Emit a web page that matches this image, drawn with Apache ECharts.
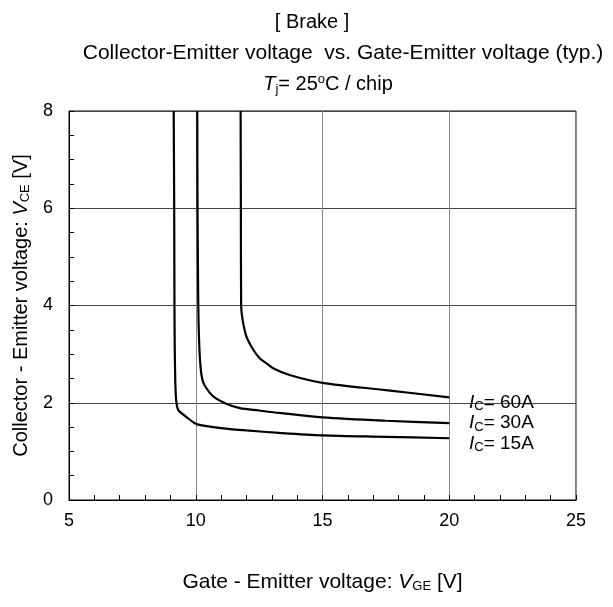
<!DOCTYPE html>
<html>
<head>
<meta charset="utf-8">
<script src="https://cdn.jsdelivr.net/npm/echarts@6/dist/echarts.min.js"></script>
<style>
  html, body { margin: 0; padding: 0; background: #fff; }
  #chart { width: 613px; height: 607px; }
</style>
</head>
<body>
<div id="chart"></div>
<script>
// VCE vs VGE curves, one per collector current: [VGE, VCE] pairs
const curve15A = [[9.13,8],[9.15,6],[9.16,4],[9.17,3.2],[9.19,2.5],[9.22,2.1],[9.26,1.93],[9.32,1.84],[9.6,1.72],[9.96,1.58],[10.2,1.54],[11,1.48],[12,1.43],[13.3,1.38],[15,1.33],[17.5,1.30],[20,1.27]];
const curve30A = [[10.06,8],[10.07,6],[10.1,4],[10.13,3.3],[10.18,2.8],[10.25,2.5],[10.36,2.35],[10.69,2.13],[11.2,1.98],[11.74,1.89],[12.5,1.84],[13.3,1.79],[15,1.70],[17.5,1.63],[20,1.58]];
const curve60A = [[11.77,8],[11.78,6],[11.79,4],[11.85,3.7],[12.0,3.36],[12.27,3.09],[12.53,2.91],[12.79,2.81],[13.05,2.71],[13.7,2.57],[15,2.41],[17.5,2.26],[20,2.11]];
const seriesNames = ['60A', '30A', '15A'];

const FONT = 'Liberation Sans, Arial, sans-serif';
const chart = echarts.init(document.getElementById('chart'));

function txt(size, extra) {
  return Object.assign({ fontFamily: FONT, fontSize: size, fontWeight: 'normal', color: '#000' }, extra || {});
}

const labelRich = {
  i: txt(19, { fontStyle: 'italic' }),
  s: txt(13, { padding: [8, 0, 0, 0] }),
  t: txt(19)
};

function curveSeries(name, data) {
  return {
    name: name, type: 'line', data: data, showSymbol: false, symbol: 'none',
    smooth: 0.3, lineStyle: { color: '#000', width: 2.2 }, animation: false
  };
}

function axisNameRich(size) {
  return {
    t: txt(size),
    i: txt(size, { fontStyle: 'italic' }),
    s: txt(13, { padding: [8, 0, 0, 0] })
  };
}

chart.setOption({
  backgroundColor: '#fff',
  animation: false,
  title: [
    { text: '[ Brake ]', left: 307, top: 7, textAlign: 'center', textStyle: txt(20) },
    { text: 'Collector-Emitter voltage  vs. Gate-Emitter voltage (typ.)', left: 338, top: 38, textAlign: 'center', textStyle: txt(21) },
    { text: '{i|T}{s|j}{t|= 25}{o|o}{t|C / chip}', left: 323, top: 68, textAlign: 'center',
      textStyle: { fontWeight: 'normal', rich: {
        i: txt(20, { fontStyle: 'italic' }),
        s: txt(13, { padding: [9, 0, 0, 0] }),
        t: txt(20),
        o: txt(13, { padding: [0, 0, 10, 0] })
      } } }
  ],
  grid: { left: 69, right: 37, top: 111, bottom: 107, show: true, borderColor: '#000', borderWidth: 1, backgroundColor: 'transparent' },
  xAxis: {
    type: 'value', min: 5, max: 25, interval: 5,
    name: '{t|Gate - Emitter voltage: }{i|V}{s|GE}{t| [V]}',
    nameLocation: 'middle', nameGap: 72,
    nameTextStyle: { rich: axisNameRich(21) },
    axisLine: { lineStyle: { color: '#000', width: 1 } },
    axisTick: { inside: true, length: 5, lineStyle: { color: '#000' } },
    minorTick: { show: true, splitNumber: 5, length: 5, lineStyle: { color: '#000' } },
    axisLabel: { fontFamily: FONT, fontSize: 18, color: '#000', margin: 12 },
    splitLine: { show: true, lineStyle: { color: '#8a8a8a', width: 1 } }
  },
  yAxis: {
    type: 'value', min: 0, max: 8, interval: 2,
    name: '{t|Collector - Emitter voltage: }{i|V}{s|CE}{t| [V]}',
    nameLocation: 'middle', nameGap: 36,
    nameTextStyle: { rich: axisNameRich(20) },
    axisLine: { lineStyle: { color: '#000', width: 1 } },
    axisTick: { inside: true, length: 5, lineStyle: { color: '#000' } },
    minorTick: { show: true, splitNumber: 4, length: 5, lineStyle: { color: '#000' } },
    axisLabel: { fontFamily: FONT, fontSize: 18, color: '#000', margin: 16 },
    splitLine: { show: true, lineStyle: { color: '#444', width: 1 } }
  },
  series: [
    curveSeries(seriesNames[0], curve60A),
    curveSeries(seriesNames[1], curve30A),
    curveSeries(seriesNames[2], curve15A)
  ],
  graphic: seriesNames.map((n, k) => ({
    type: 'text', left: 469, top: 393 + k * 20.5, z: 10,
    style: { text: '{i|I}{s|C}{t|= ' + n + '}', rich: labelRich }
  }))
});
</script>
</body>
</html>
